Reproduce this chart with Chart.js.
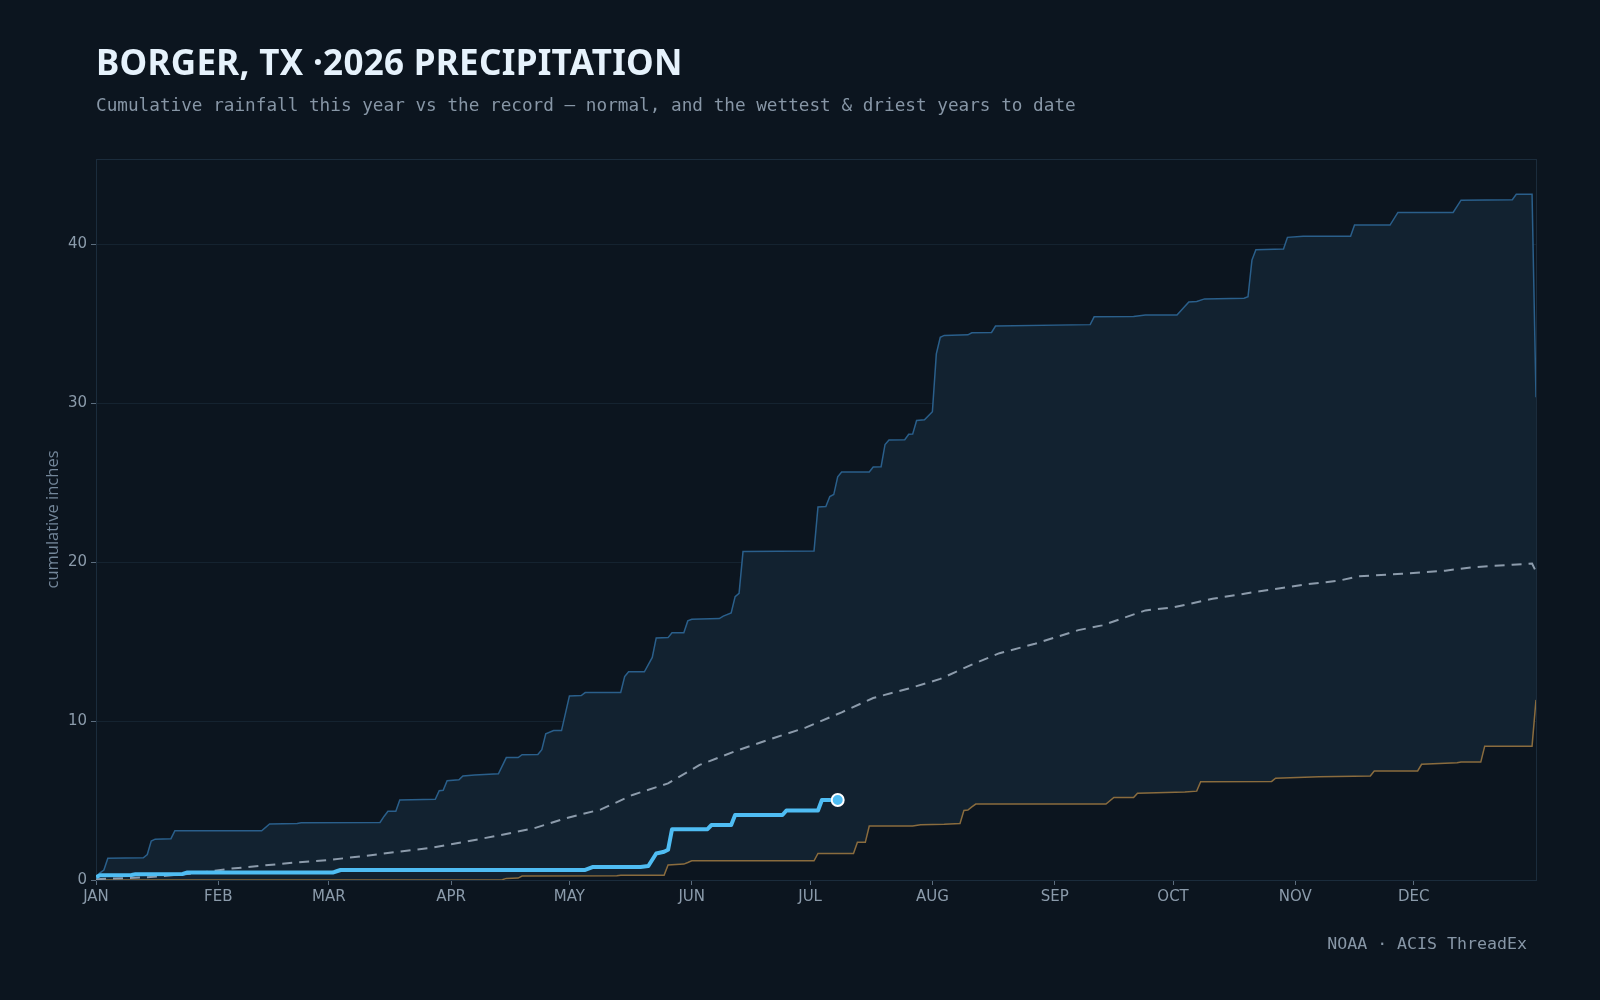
<!DOCTYPE html>
<html>
<head>
<meta charset="utf-8">
<script src="https://cdn.jsdelivr.net/npm/chart.js@4.4.1/dist/chart.umd.min.js"></script>
<style>
  body { margin: 0; background: #0c151f; }
  #wrap { position: relative; width: 1600px; height: 1000px; background: #0c151f; overflow: hidden; }
  #chart { position: absolute; left: 0; top: 0; }
  .title { position: absolute; left: 96px; top: 44px; font: 700 35px "Noto Sans", sans-serif; line-height: 35px; color: #e6f2fc; letter-spacing: 0.3px; white-space: nowrap; }
  .sub { position: absolute; left: 96px; top: 97px; font: 17.7px "DejaVu Sans Mono", monospace; line-height: 17.7px; color: #8796a6; white-space: nowrap; }
  .src { position: absolute; right: 73px; top: 936px; font: 16.6px "DejaVu Sans Mono", monospace; line-height: 16.6px; color: #8796a6; white-space: nowrap; }
</style>
</head>
<body>
<div id="wrap">
  <canvas id="chart" width="1600" height="1000"></canvas>
  <div class="title">BORGER, TX ·2026 PRECIPITATION</div>
  <div class="sub">Cumulative rainfall this year vs the record — normal, and the wettest &amp; driest years to date</div>
  <div class="src">NOAA · ACIS ThreadEx</div>
</div>
<script>
const monthDays = [0, 31, 59, 90, 120, 151, 181, 212, 243, 273, 304, 334];
const monthLabels = ["JAN", "FEB", "MAR", "APR", "MAY", "JUN", "JUL", "AUG", "SEP", "OCT", "NOV", "DEC"];
const yTicks = [0, 10, 20, 30, 40];

// record wettest year to date (day of year, inches)
const wetDays = [0, 1, 2, 3, 12, 13, 14, 15, 19, 20, 42, 44, 51, 52, 72, 73, 74, 76, 77, 86, 87, 88, 89, 92, 93, 96, 102, 104, 107, 108, 112, 113, 114, 116, 118, 120, 123, 124, 133, 134, 135, 139, 141, 142, 145, 146, 149, 150, 151, 158, 159, 161, 162, 163, 164, 182, 183, 185, 186, 187, 188, 189, 196, 197, 199, 200, 201, 205, 206, 207, 208, 210, 212, 213, 214, 215, 221, 222, 227, 228, 252, 253, 263, 266, 274, 277, 279, 281, 291, 292, 293, 294, 301, 302, 306, 318, 319, 328, 330, 344, 346, 359, 360, 364, 365];
const wetVals = [0.2, 0.45, 0.63, 1.37, 1.4, 1.6, 2.45, 2.57, 2.6, 3.1, 3.1, 3.52, 3.55, 3.6, 3.62, 4.0, 4.32, 4.32, 5.03, 5.08, 5.62, 5.65, 6.25, 6.3, 6.54, 6.6, 6.68, 7.7, 7.7, 7.88, 7.9, 8.2, 9.2, 9.4, 9.4, 11.58, 11.6, 11.79, 11.8, 12.8, 13.1, 13.1, 14.0, 15.23, 15.25, 15.56, 15.56, 16.3, 16.4, 16.45, 16.6, 16.8, 17.83, 18.04, 20.66, 20.7, 23.47, 23.5, 24.13, 24.25, 25.36, 25.67, 25.67, 25.98, 26.0, 27.4, 27.68, 27.7, 28.04, 28.05, 28.91, 28.95, 29.46, 33.1, 34.14, 34.26, 34.3, 34.43, 34.45, 34.85, 34.94, 35.43, 35.45, 35.54, 35.55, 36.37, 36.4, 36.56, 36.6, 36.69, 39.0, 39.65, 39.7, 40.43, 40.5, 40.5, 41.2, 41.2, 42.0, 42.0, 42.77, 42.8, 43.14, 43.14, 30.37];

// record driest year to date
const dryDays = [0, 103, 104, 107, 108, 132, 133, 144, 145, 149, 150, 151, 182, 183, 192, 193, 195, 196, 207, 209, 215, 219, 220, 221, 222, 223, 256, 258, 263, 264, 276, 279, 280, 298, 299, 310, 323, 324, 335, 336, 345, 346, 351, 352, 364, 365];
const dryVals = [0.0, 0.02, 0.1, 0.12, 0.25, 0.27, 0.3, 0.3, 0.94, 1.0, 1.1, 1.21, 1.21, 1.67, 1.67, 2.37, 2.37, 3.4, 3.4, 3.48, 3.5, 3.55, 4.38, 4.4, 4.6, 4.78, 4.78, 5.19, 5.19, 5.46, 5.54, 5.59, 6.18, 6.2, 6.4, 6.5, 6.55, 6.86, 6.86, 7.28, 7.37, 7.42, 7.42, 8.42, 8.42, 11.33];

// normal cumulative
const normDays = [0, 13, 25, 34, 42, 51, 59, 68, 76, 85, 93, 102, 111, 119, 128, 136, 145, 153, 162, 172, 180, 189, 197, 206, 214, 222, 229, 238, 249, 255, 266, 273, 283, 295, 301, 306, 315, 320, 331, 342, 349, 359, 364, 365];
const normVals = [0.05, 0.17, 0.42, 0.71, 0.9, 1.11, 1.26, 1.51, 1.76, 2.02, 2.38, 2.8, 3.25, 3.88, 4.44, 5.35, 6.08, 7.24, 8.1, 8.95, 9.6, 10.55, 11.45, 12.05, 12.65, 13.55, 14.27, 14.86, 15.72, 16.02, 16.96, 17.15, 17.69, 18.17, 18.38, 18.58, 18.83, 19.11, 19.26, 19.46, 19.68, 19.83, 19.91, 19.4];

// 2026 so far
const yearDays = [0, 1, 9, 10, 22, 23, 60, 61, 62, 124, 126, 138, 140, 142, 144, 145, 146, 155, 156, 161, 162, 174, 175, 183, 184, 188];
const yearVals = [0.17, 0.3, 0.32, 0.36, 0.38, 0.47, 0.47, 0.55, 0.63, 0.63, 0.82, 0.82, 0.88, 1.67, 1.78, 1.9, 3.19, 3.2, 3.46, 3.46, 4.09, 4.09, 4.37, 4.37, 5.03, 5.03];

const yMax = 45.36;

function pts(days, vals) {
  return days.map((d, i) => ({ x: d, y: vals[i] }));
}

const framePlugin = {
  id: "frame",
  beforeDatasetsDraw(chart) {
    const a = chart.chartArea;
    const ctx = chart.ctx;
    ctx.save();
    ctx.strokeStyle = "#1b2c3c";
    ctx.lineWidth = 1;
    ctx.strokeRect(Math.round(a.left) + 0.5, Math.round(a.top) + 0.5, Math.round(a.right - a.left), Math.round(a.bottom - a.top));
    ctx.restore();
  },
};

const lastIdx = yearDays.length - 1;

new Chart(document.getElementById("chart"), {
  type: "line",
  data: {
    datasets: [
      {
        label: "Wettest",
        data: pts(wetDays, wetVals),
        borderColor: "#2a5f8b",
        borderWidth: 1.5,
        backgroundColor: "#122230",
        fill: 1,
        pointRadius: 0,
        tension: 0,
        order: 4,
      },
      {
        label: "Driest",
        data: pts(dryDays, dryVals),
        borderColor: "#8a6c3e",
        borderWidth: 1.5,
        fill: false,
        pointRadius: 0,
        tension: 0,
        order: 3,
      },
      {
        label: "Normal",
        data: pts(normDays, normVals),
        borderColor: "#8c9bab",
        borderWidth: 2,
        borderDash: [10, 7],
        fill: false,
        pointRadius: 0,
        tension: 0,
        order: 2,
      },
      {
        label: "2026",
        data: pts(yearDays, yearVals),
        borderColor: "#4fbdf3",
        borderWidth: 4,
        fill: false,
        tension: 0,
        borderJoinStyle: "round",
        pointRadius: (c) => (c.dataIndex === lastIdx ? 6 : 0),
        pointBackgroundColor: "#4fbdf3",
        pointBorderColor: "#ffffff",
        pointBorderWidth: 2,
        order: 1,
      },
    ],
  },
  options: {
    responsive: false,
    animation: false,
    events: [],
    layout: { padding: { left: 40, top: 159, right: 64, bottom: 0 } },
    plugins: { legend: { display: false }, tooltip: { enabled: false } },
    scales: {
      x: {
        type: "linear",
        min: 0,
        max: 365,
        afterBuildTicks: (axis) => { axis.ticks = monthDays.map((v) => ({ value: v })); },
        afterFit: (scale) => { scale.height = 120; },
        ticks: {
          autoSkip: false,
          maxRotation: 0,
          padding: 3,
          color: "#8b9bab",
          font: { family: "DejaVu Sans", size: 15 },
          callback: (v) => monthLabels[monthDays.indexOf(v)],
        },
        grid: { drawOnChartArea: false, drawTicks: true, tickLength: 5, tickColor: "#5c6d7e" },
        border: { display: false },
      },
      y: {
        min: 0,
        max: yMax,
        afterBuildTicks: (axis) => { axis.ticks = yTicks.map((v) => ({ value: v })); },
        afterFit: (scale) => { scale.width = 56; },
        ticks: {
          padding: 4,
          color: "#8b9bab",
          font: { family: "DejaVu Sans", size: 15 },
        },
        grid: { color: "#152330", lineWidth: 1, drawTicks: true, tickLength: 5, tickColor: "#5c6d7e" },
        border: { display: false },
        title: {
          display: true,
          text: "cumulative inches",
          color: "#74879a",
          font: { family: "Open Sans", size: 16.5 },
          padding: { top: 3, bottom: 4 },
        },
      },
    },
  },
  plugins: [framePlugin],
});
</script>
</body>
</html>
